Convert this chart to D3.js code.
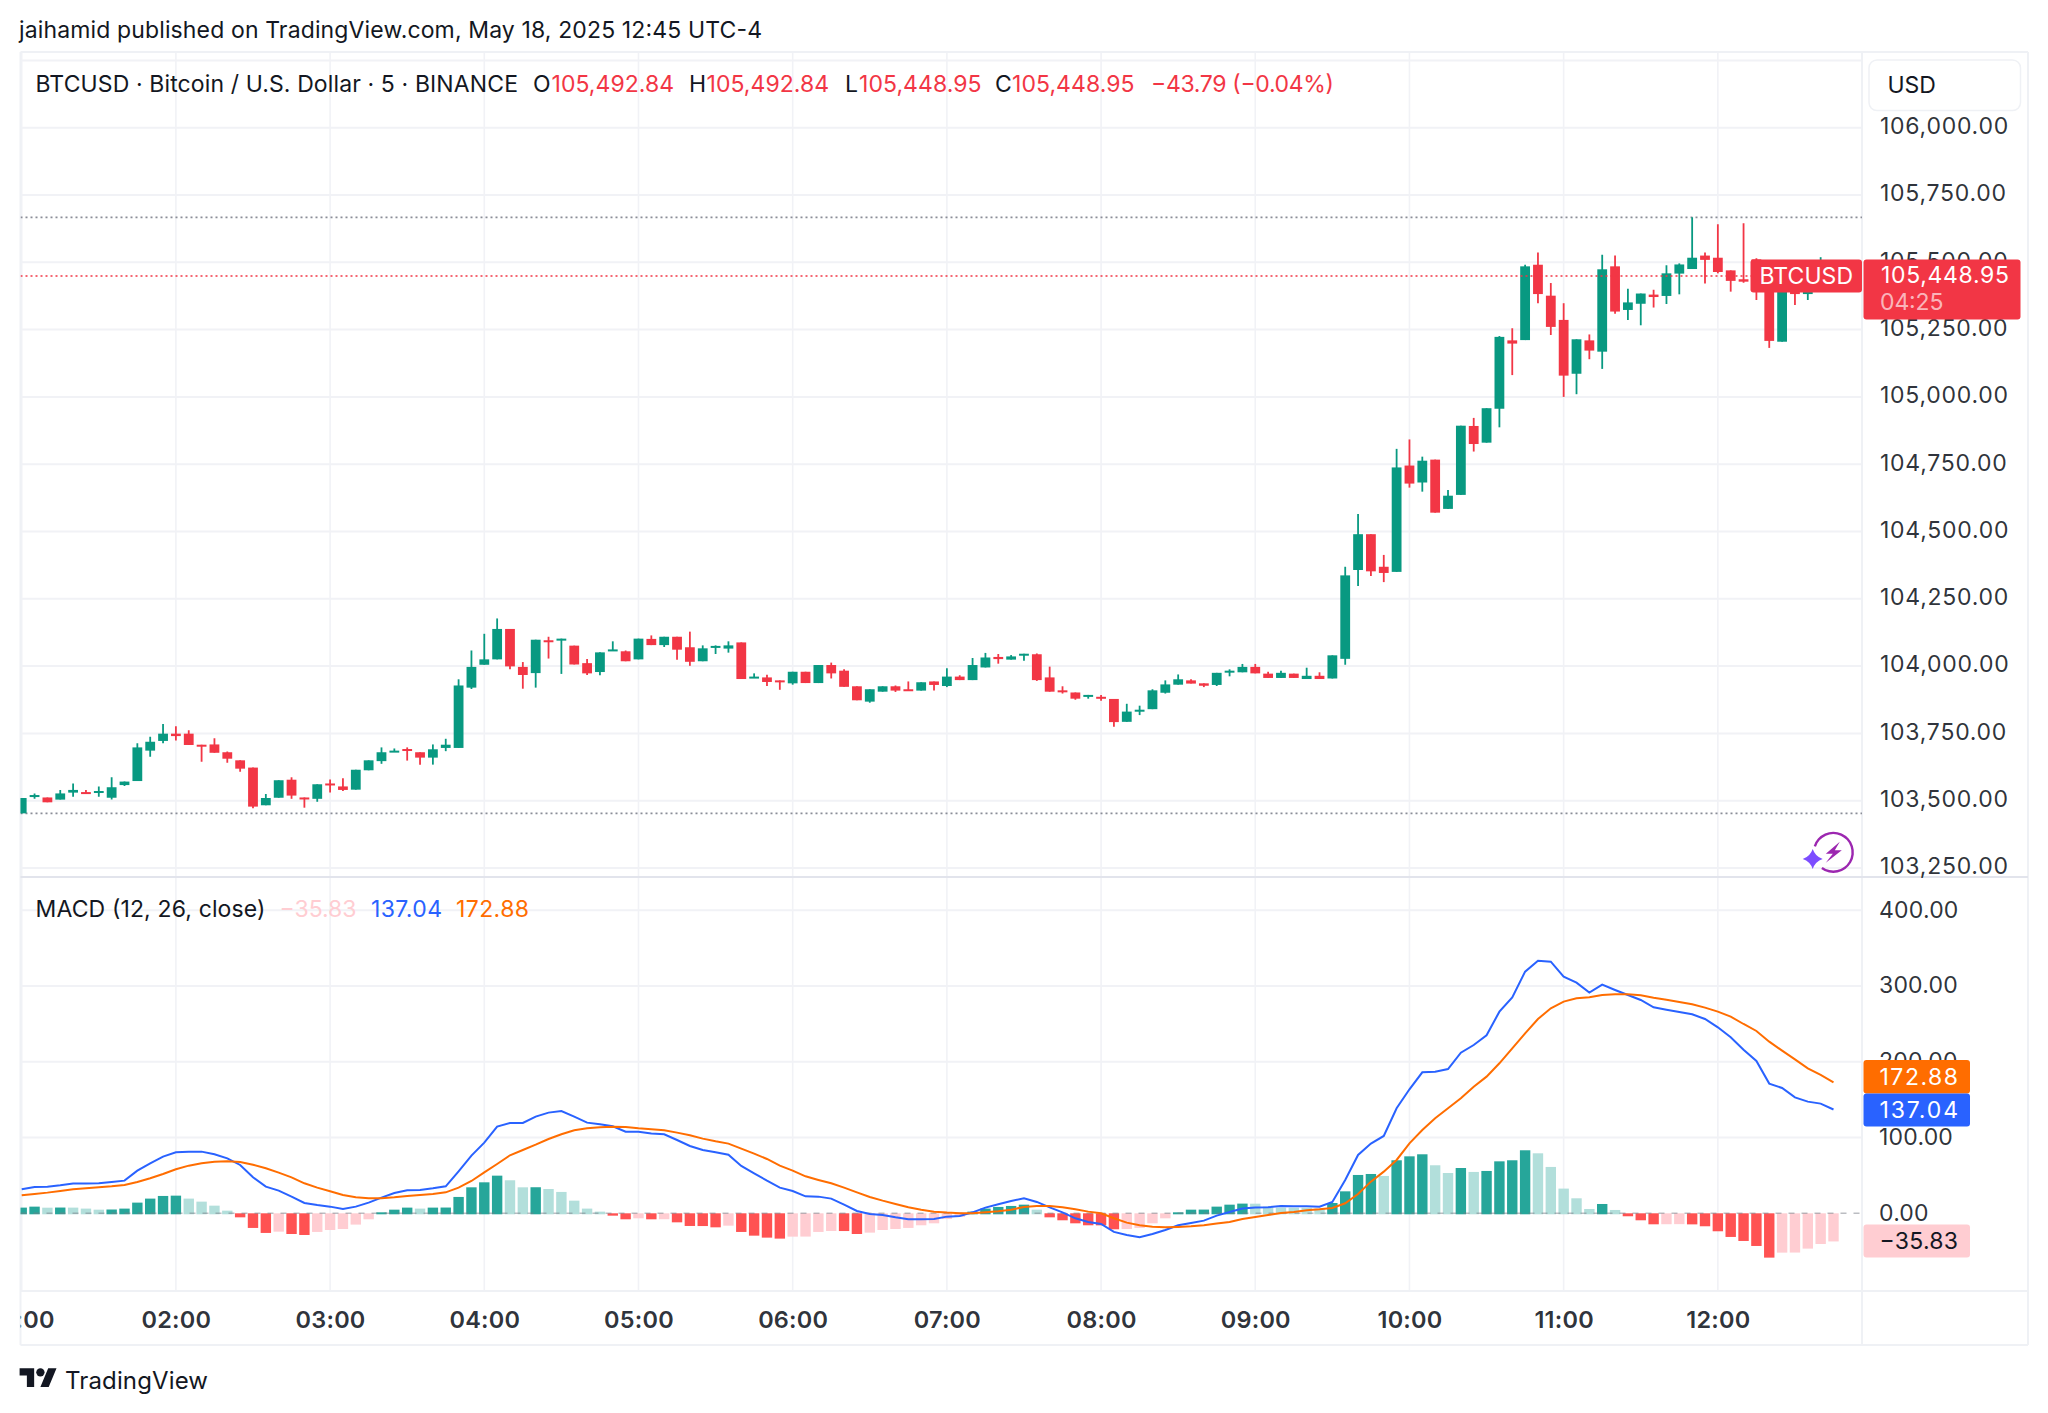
<!DOCTYPE html>
<html>
<head>
<meta charset="utf-8">
<script src="https://cdn.jsdelivr.net/npm/d3@7"></script>
<style>
	html, body { margin: 0; background: #fff; }
	svg { display: block; }
	text { font-family: Inter, "Liberation Sans", sans-serif; }
</style>
</head>
<body>
<div id="chart"></div>
<script>
// 5 minute bars, 01:00 to 12:45
var opens = [
	103453,103514,103512,103504,103530,103532,103530,103511,103558,103573,
	103686,103722,103749,103749,103708,103709,103680,103650,103623,103483,
	103511,103578,103512,103507,103564,103553,103541,103613,103647,103681,
	103692,103680,103660,103696,103696,103920,104005,104025,104138,103997,
	103974,104096,104097,104076,104011,103978,104057,104055,104025,104101,
	104078,104109,104070,104018,104070,104065,104088,103956,103958,103947,
	103936,103979,103937,104004,103983,103925,103868,103905,103925,103914,
	103909,103943,103926,103961,103948,103995,104034,104024,104040,104044,
	103958,103910,103902,103886,103886,103878,103793,103832,103840,103901,
	103931,103947,103936,103930,103978,103977,103997,103972,103956,103972,
	103952,103964,103954,104027,104357,104490,104369,104350,104745,104682,
	104767,104584,104636,104892,104830,104956,105210,105211,105491,105376,
	105286,105086,105210,105168,105485,105323,105346,105380,105375,105458,
	105475,105525,105517,105470,105437,105511,105397,105205,105416,105382,
	105403,105492.84
];
var highs = [
	103510,103527,103512,103540,103564,103540,103553,103587,103571,103713,
	103738,103785,103777,103762,103708,103732,103683,103650,103623,103525,
	103576,103587,103512,103561,103579,103583,103615,103650,103698,103694,
	103698,103680,103709,103730,103951,104058,104120,104177,104138,104015,
	104098,104109,104102,104076,104026,104051,104092,104058,104102,104114,
	104109,104109,104128,104077,104077,104092,104088,103973,103968,103947,
	103979,103979,104004,104013,103988,103925,103914,103925,103928,103943,
	103940,103943,103992,103966,104030,104049,104045,104041,104046,104047,
	103998,103925,103902,103893,103893,103878,103860,103853,103914,103947,
	103969,103951,103936,103975,103988,104008,104008,103979,103983,103972,
	103994,103977,104040,104369,104565,104490,104413,104807,104842,104778,
	104767,104654,104893,104922,104958,105226,105255,105491,105536,105423,
	105348,105214,105232,105528,105525,105402,105384,105398,105489,105496,
	105667,105536,105641,105470,105645,105515,105397,105422,105416,105397,
	105519,105492.84
];
var lows = [
	103453,103507,103494,103504,103515,103526,103515,103504,103555,103573,
	103663,103713,103724,103707,103645,103678,103641,103608,103472,103483,
	103511,103507,103474,103496,103530,103536,103541,103613,103637,103681,
	103649,103634,103634,103684,103696,103915,104005,104025,103988,103916,
	103920,104028,103971,104006,103967,103966,104057,104018,104025,104078,
	104071,104024,104001,104018,104045,104050,103952,103956,103926,103912,
	103931,103937,103937,103954,103923,103873,103864,103905,103904,103909,
	103909,103909,103922,103948,103948,103995,104009,104024,104020,103945,
	103905,103898,103875,103879,103871,103775,103793,103818,103840,103898,
	103931,103935,103922,103926,103962,103977,103973,103956,103956,103956,
	103952,103952,103954,104005,104298,104335,104312,104350,104663,104648,
	104570,104584,104636,104797,104830,104887,105081,105211,105348,105230,
	105000,105010,105140,105104,105309,105286,105266,105332,105345,105381,
	105475,105421,105459,105391,105424,105360,105182,105205,105341,105360,
	105403,105448.95
];
var closes = [
	103510,103521,103494,103527,103540,103526,103536,103550,103571,103698,
	103719,103749,103740,103707,103703,103678,103656,103619,103478,103510,
	103576,103519,103507,103561,103558,103540,103615,103650,103680,103686,
	103686,103660,103691,103708,103928,103997,104025,104138,103999,103967,
	104098,104089,104102,104006,103973,104051,104062,104018,104102,104078,
	104109,104061,104016,104066,104075,104077,103952,103961,103941,103941,
	103979,103937,104004,103973,103923,103873,103914,103925,103909,103909,
	103940,103930,103961,103948,104004,104032,104026,104036,104046,103948,
	103905,103904,103879,103893,103880,103792,103831,103838,103910,103932,
	103951,103935,103927,103975,103983,103997,103973,103956,103975,103956,
	103964,103952,104040,104337,104490,104352,104346,104738,104678,104763,
	104570,104633,104893,104825,104958,105223,105198,105485,105382,105260,
	105079,105214,105172,105474,105317,105351,105384,105371,105459,105492,
	105517,105509,105464,105431,105428,105397,105208,105422,105382,105397,
	105494,105448.95
];
var histogram = [
	7.5,8.8,7.4,7.6,7.5,6.2,4.8,5,6.2,14.1,
	19.4,22.9,23.3,19.4,15.4,10.1,3.5,-4,-18,-24.6,
	-22.9,-26,-27.3,-23.3,-20.7,-19.4,-13.6,-6.6,1.3,4.8,
	7.5,6.2,7.5,7.6,21.6,34.3,40.9,49.7,43.6,34.3,
	34.4,32.1,28.2,16.7,6.2,2.2,-1.8,-6.6,-5.3,-6.6,
	-6.5,-10.6,-15.4,-15.5,-17.2,-15,-23.3,-28.2,-30.8,-32.1,
	-29.5,-29.4,-23.3,-22,-22.1,-26,-24.2,-20.7,-19.4,-18,
	-14.5,-11.9,-6.2,-3.5,2.2,6.2,8.4,9.7,11.4,4.8,
	-4,-7.9,-11.9,-14.5,-14.6,-19.8,-19.4,-18,-11.9,-5.3,
	1.3,4.8,4.9,8.8,11.4,12.8,12.7,8.8,7.5,7.4,
	7.3,6.2,13.6,29,50.6,51.9,49.3,70,75.2,77.9,
	63.4,53.2,59.8,54.6,55.9,68.6,70,83.2,79.2,61.2,
	32.6,19.8,5.7,12.3,4.4,-2.6,-7.9,-13.2,-13.1,-13,
	-13.3,-15.8,-22.4,-29.9,-35.2,-41.8,-57.2,-50.6,-50.5,-45.3,
	-39.2,-35.83
];
var macdLine = [
	31.7,34.8,35.2,37,39.2,39.2,39.6,41.4,43.1,56.3,
	66,74.8,80.5,81.4,81.4,77.9,72.6,63.8,47.5,35.2,
	29.9,22,13.6,11,8.8,5.7,8.8,14.1,20.7,26.8,
	30.4,30.8,33,35.6,55.4,76.1,93.3,114.4,119.2,119.2,
	127.6,132.9,135.1,127.6,119.7,117.5,114.8,107.8,107.8,105.2,
	104.3,96.8,88.9,83.6,80.5,77.4,62.5,52.8,43.1,33.9,
	29.5,22.4,22,19.4,11.4,3.1,-0.9,-2.2,-5.3,-7.9,
	-7.9,-7.5,-4.4,-3.5,1.3,7.5,11.9,16.3,19.8,15,
	7.9,1.3,-6.6,-11.4,-14.1,-24.6,-28.6,-31.7,-27.3,-22,
	-15.8,-12.8,-9.7,-3.1,1.8,6.2,7.5,7.9,9.7,9.2,
	9.2,8.8,15,44,77,92,102.1,138.6,163.7,186.1,
	187,190.5,212,222.2,235,266.2,285.1,319,333.5,332.2,
	312.4,304.5,291.3,301.8,294.8,288.2,281.6,271.9,268.8,265.8,
	262.7,256.5,245.5,232.3,216,201.1,171.2,165.4,153.1,147.4,
	144.8,137.04
];
var signalLine = [
	23.8,25.5,27.3,29.5,31.7,33,34.3,35.6,37.4,41.4,
	46.2,51.9,58.1,62.9,66,68.2,68.6,67.8,64.2,59.4,
	53.7,47.5,39.6,33.9,29,24.2,21.1,19.8,19.8,21.1,
	22.9,24.2,25.5,27.7,33.9,42.7,54.1,65.1,76.6,83.6,
	90.6,98.1,104.3,109.6,112.2,113.5,114.4,114,112.2,110.9,
	109.6,106.5,103,98.6,95,92,85.4,78.8,71.7,62.9,
	56.3,48.8,44,39.6,33.9,27.7,21.6,16.7,12.3,7.9,
	4.8,2.2,0.9,0,0,1.3,2.6,4.8,8.4,9.7,
	9.7,7.9,5.3,2.2,0,-6.6,-12.3,-15.8,-17.6,-18.5,
	-18,-17.2,-15.8,-13.6,-11.4,-7.5,-4.8,-2.2,0.4,1.8,
	4,5.3,7,13.2,25.5,41.8,55,70.4,92.4,110,
	125.4,138.6,151.8,167.2,180.4,198,217.8,237.6,256.5,270.6,
	279.4,283.8,285.1,288.2,289.1,289.1,287.8,284.7,282,279,
	275.9,271.5,266.2,259.6,249.9,240.7,226.6,214.7,203.3,191.4,
	182.6,172.88
];
var priceTicks = [103250,103500,103750,104000,104250,104500,104750,105000,105250,105500,105750,106000,106250];
var macdTicks = [0,100,200,300,400];
var hourIndex = [0,12,24,36,48,60,72,84,96,108,120,132];
var hourLabels = ["01:00","02:00","03:00","04:00","05:00","06:00","07:00","08:00","09:00","10:00","11:00","12:00"];
var sessionHigh = 105667;
var sessionLow = 103453;
var lastPrice = 105448.95;

var GREEN = "#089981", RED = "#f23645";
var BLUE = "#2962ff", ORANGE = "#ff6d00", PINK = "#ffcdd2";
var GRID = "#f1f2f6", BORDER = "#eff1f5", INK = "#131722";

var plotLeft = 20.5, plotRight = 1862, outerRight = 2028;
var plotTop = 52, paneSplit = 877, plotBottom = 1291, outerBottom = 1345;

var x = d3.scaleLinear().domain([0, 141]).range([21.7, 1833.5]);
var yPrice = d3.scaleLinear().domain([103500, 105750]).range([800.7, 195]);
var yMacd = d3.scaleLinear().domain([0, 400]).range([1213.3, 910.3]);

var svg = d3.select("#chart").append("svg")
	.attr("width", 2048)
	.attr("height", 1413);

var defs = svg.append("defs");
defs.append("clipPath").attr("id", "clip-price").append("rect")
	.attr("x", plotLeft).attr("y", plotTop)
	.attr("width", plotRight - plotLeft).attr("height", paneSplit - plotTop);
defs.append("clipPath").attr("id", "clip-macd").append("rect")
	.attr("x", plotLeft).attr("y", paneSplit)
	.attr("width", plotRight - plotLeft).attr("height", plotBottom - paneSplit);
defs.append("clipPath").attr("id", "clip-time-axis").append("rect")
	.attr("x", plotLeft).attr("y", -20)
	.attr("width", plotRight - plotLeft).attr("height", 60);

// grid
var grid = svg.append("g").attr("fill", "none");
grid.selectAll(".vgrid")
	.data(hourIndex)
	.enter().append("line")
	.attr("x1", function(d) { return x(d); })
	.attr("x2", function(d) { return x(d); })
	.attr("y1", plotTop)
	.attr("y2", plotBottom)
	.attr("stroke", GRID)
	.attr("stroke-width", 1.6);
grid.selectAll(".hgrid-price")
	.data(priceTicks)
	.enter().append("line")
	.attr("x1", plotLeft)
	.attr("x2", plotRight)
	.attr("y1", function(d) { return yPrice(d); })
	.attr("y2", function(d) { return yPrice(d); })
	.attr("stroke", GRID)
	.attr("stroke-width", 2);
grid.selectAll(".hgrid-macd")
	.data(macdTicks.slice(1))
	.enter().append("line")
	.attr("x1", plotLeft)
	.attr("x2", plotRight)
	.attr("y1", function(d) { return yMacd(d); })
	.attr("y2", function(d) { return yMacd(d); })
	.attr("stroke", GRID)
	.attr("stroke-width", 2);

// frame
var frame = [
	[plotLeft, plotTop, outerRight, plotTop, BORDER],
	[plotLeft, plotTop, plotLeft, outerBottom, BORDER],
	[outerRight, plotTop, outerRight, outerBottom, BORDER],
	[plotLeft, outerBottom, outerRight, outerBottom, BORDER],
	[plotRight, plotTop, plotRight, outerBottom, BORDER],
	[plotLeft, plotBottom, outerRight, plotBottom, BORDER],
	[plotLeft, paneSplit, outerRight, paneSplit, "#e2e4ec"]
];
svg.append("g").selectAll("line")
	.data(frame)
	.enter().append("line")
	.attr("x1", function(d) { return d[0]; })
	.attr("y1", function(d) { return d[1]; })
	.attr("x2", function(d) { return d[2]; })
	.attr("y2", function(d) { return d[3]; })
	.attr("stroke", function(d) { return d[4]; })
	.attr("stroke-width", 2);

// high / low price lines
var pricePane = svg.append("g").attr("clip-path", "url(#clip-price)");
pricePane.selectAll(".extreme")
	.data([sessionHigh, sessionLow])
	.enter().append("line")
	.attr("x1", plotLeft)
	.attr("x2", plotRight)
	.attr("y1", function(d) { return yPrice(d); })
	.attr("y2", function(d) { return yPrice(d); })
	.attr("stroke", "#8a8d97")
	.attr("stroke-width", 1.6)
	.attr("stroke-dasharray", "2 3");

// candles
var bars = d3.range(opens.length);
function barColor(i) {
	return closes[i] >= opens[i] ? GREEN : RED;
}
pricePane.selectAll(".wick")
	.data(bars)
	.enter().append("line")
	.attr("x1", function(i) { return x(i); })
	.attr("x2", function(i) { return x(i); })
	.attr("y1", function(i) { return yPrice(highs[i]); })
	.attr("y2", function(i) { return yPrice(lows[i]); })
	.attr("stroke", barColor)
	.attr("stroke-width", 1.8);
pricePane.selectAll(".body")
	.data(bars)
	.enter().append("rect")
	.attr("x", function(i) { return x(i) - 4.9; })
	.attr("width", 9.8)
	.attr("y", function(i) { return yPrice(Math.max(opens[i], closes[i])); })
	.attr("height", function(i) { return Math.max(2, Math.abs(yPrice(opens[i]) - yPrice(closes[i]))); })
	.attr("fill", barColor);

pricePane.append("line")
	.attr("x1", plotLeft)
	.attr("x2", plotRight)
	.attr("y1", yPrice(lastPrice))
	.attr("y2", yPrice(lastPrice))
	.attr("stroke", RED)
	.attr("stroke-width", 1.6)
	.attr("stroke-dasharray", "2 3");

// macd pane
var macdPane = svg.append("g").attr("clip-path", "url(#clip-macd)");
function histColor(i) {
	var v = histogram[i];
	var prev = i > 0 ? histogram[i - 1] : 0;
	if(v >= 0) {
		return v >= prev ? "#26a69a" : "#b2dfdb";
	}
	return v < prev ? "#ff5252" : PINK;
}
macdPane.selectAll(".hist")
	.data(bars)
	.enter().append("rect")
	.attr("x", function(i) { return x(i) - 5.2; })
	.attr("width", 10.4)
	.attr("y", function(i) { return Math.min(yMacd(histogram[i]), yMacd(0)); })
	.attr("height", function(i) { return Math.abs(yMacd(histogram[i]) - yMacd(0)) + 1; })
	.attr("fill", histColor);
macdPane.append("line")
	.attr("x1", plotLeft)
	.attr("x2", plotRight)
	.attr("y1", yMacd(0))
	.attr("y2", yMacd(0))
	.attr("stroke", "#787b86")
	.attr("stroke-opacity", 0.5)
	.attr("stroke-width", 1.5)
	.attr("stroke-dasharray", "6 7");

function lineFor(values) {
	return d3.line()
		.x(function(d, i) { return x(i); })
		.y(function(d) { return yMacd(d); })(values);
}
macdPane.append("path")
	.attr("d", lineFor(macdLine))
	.attr("fill", "none")
	.attr("stroke", BLUE)
	.attr("stroke-width", 2);
macdPane.append("path")
	.attr("d", lineFor(signalLine))
	.attr("fill", "none")
	.attr("stroke", ORANGE)
	.attr("stroke-width", 2);

// axes
function styleAxis(g, size, weight, spacing) {
	g.select(".domain").remove();
	g.selectAll(".tick line").remove();
	g.selectAll(".tick text")
		.attr("fill", INK)
		.attr("fill-opacity", 0.9)
		.style("font-size", size + "px")
		.style("font-weight", weight)
		.style("letter-spacing", spacing + "px")
		.style("font-family", "Inter, sans-serif");
}
var priceFormat = d3.format(",.2f");
svg.append("g")
	.attr("transform", "translate(1880,-1.5)")
	.call(d3.axisRight(yPrice).tickValues(priceTicks.slice(0, 12)).tickSize(0).tickPadding(0).tickFormat(priceFormat))
	.call(styleAxis, 23, 400, 0.75);
svg.append("g")
	.attr("transform", "translate(1879,-0.5)")
	.call(d3.axisRight(yMacd).tickValues(macdTicks).tickSize(0).tickPadding(0).tickFormat(priceFormat))
	.call(styleAxis, 23, 400, 0.2);
svg.append("g")
	.attr("transform", "translate(0,1311.5)")
	.attr("clip-path", "url(#clip-time-axis)")
	.call(d3.axisBottom(x).tickValues(hourIndex).tickSize(0).tickPadding(0).tickFormat(function(d, i) { return hourLabels[i]; }))
	.call(styleAxis, 23.5, 600, 0.2);

// helper for the written header pieces, width stretches the letter spacing
function label(px, py, str, color, size, width, weight, anchor) {
	var t = svg.append("text")
		.attr("x", px)
		.attr("y", py)
		.attr("fill", color)
		.attr("dominant-baseline", "central")
		.attr("text-anchor", anchor || "start")
		.style("font-size", size + "px")
		.style("font-weight", weight || 400)
		.text(str);
	if(width) {
		t.attr("textLength", width).attr("lengthAdjust", "spacing");
	}
	return t;
}

label(19, 30, "jaihamid published on TradingView.com, May 18, 2025 12:45 UTC-4", INK, 23, 743);

var legendPieces = [
	[35.5, "BTCUSD · Bitcoin / U.S. Dollar · 5 · BINANCE", INK, 482.5],
	[533, "O", INK, 0], [551.5, "105,492.84", RED, 122.5],
	[689, "H", INK, 0], [706.5, "105,492.84", RED, 122.5],
	[845, "L", INK, 0], [859, "105,448.95", RED, 122.5],
	[995, "C", INK, 0], [1012, "105,448.95", RED, 122.5],
	[1151, "−43.79 (−0.04%)", RED, 183]
];
legendPieces.forEach(function(p) {
	label(p[0], 83.5, p[1], p[2], 23, p[3]);
});
var macdPieces = [
	[35.5, "MACD (12, 26, close)", INK, 230],
	[279.5, "−35.83", PINK, 77],
	[371, "137.04", BLUE, 71],
	[456, "172.88", ORANGE, 73]
];
macdPieces.forEach(function(p) {
	label(p[0], 909, p[1], p[2], 23, p[3]);
});

// USD button
svg.append("rect")
	.attr("x", 1869).attr("y", 60)
	.attr("width", 151.5).attr("height", 50.5)
	.attr("rx", 8)
	.attr("fill", "#fff")
	.attr("stroke", BORDER)
	.attr("stroke-width", 1.5);
label(1887.5, 85, "USD", INK, 23);

// price tags
function tag(px, py, w, h, fill) {
	svg.append("rect")
		.attr("x", px).attr("y", py)
		.attr("width", w).attr("height", h)
		.attr("rx", 3)
		.attr("fill", fill);
}
tag(1750.5, 259.5, 111.5, 33, RED);
tag(1863.5, 259.5, 157, 60, RED);
label(1759.5, 276, "BTCUSD", "#fff", 23, 93.5);
label(1881, 275, priceFormat(lastPrice), "#fff", 23, 128);
label(1880, 302, "04:25", "#fff", 23, 63.5).attr("fill-opacity", 0.65);

tag(1863.5, 1060, 106.5, 33.5, ORANGE);
tag(1863.5, 1093.5, 106.5, 33, BLUE);
tag(1863.5, 1224.5, 106.5, 33, PINK);
label(1879.5, 1077, priceFormat(signalLine[signalLine.length - 1]), "#fff", 23, 78.5);
label(1879.5, 1110, priceFormat(macdLine[macdLine.length - 1]), "#fff", 23, 78.5);
label(1879.5, 1241, "−35.83", INK, 23, 78.5);

// replay badge, lower right of the price pane
var badge = svg.append("g").attr("transform", "translate(1833.3,852.3)");
badge.append("path")
	.attr("d", d3.arc().innerRadius(18.2).outerRadius(20.6).startAngle(-0.4 * Math.PI).endAngle(1.2 * Math.PI)())
	.attr("fill", "#9c27b0");
badge.append("path")
	.attr("d", "M6.5 -10.5 L-7.5 1.5 L-0.5 1.5 L-7.5 10.5 L8.5 -2 L1.5 -2 Z")
	.attr("fill", "#9c27b0");
svg.append("path")
	.attr("transform", "translate(1812.7,859)")
	.attr("d", "M0 -10 Q2.5 -2.5 10 0 Q2.5 2.5 0 10 Q-2.5 2.5 -10 0 Q-2.5 -2.5 0 -10 Z")
	.attr("fill", "#7c4dff");

// TradingView mark
var logo = svg.append("g").attr("transform", "translate(19.6,1364) scale(1.04)").attr("fill", INK);
logo.append("path").attr("d", "M14 22H7V11H0V4h14v18zM28 22h-8l7.5-18h8L28 22z");
logo.append("circle").attr("cx", 20).attr("cy", 8).attr("r", 4);
label(65, 1380, "TradingView", INK, 24, 143, 400);
</script>
</body>
</html>
